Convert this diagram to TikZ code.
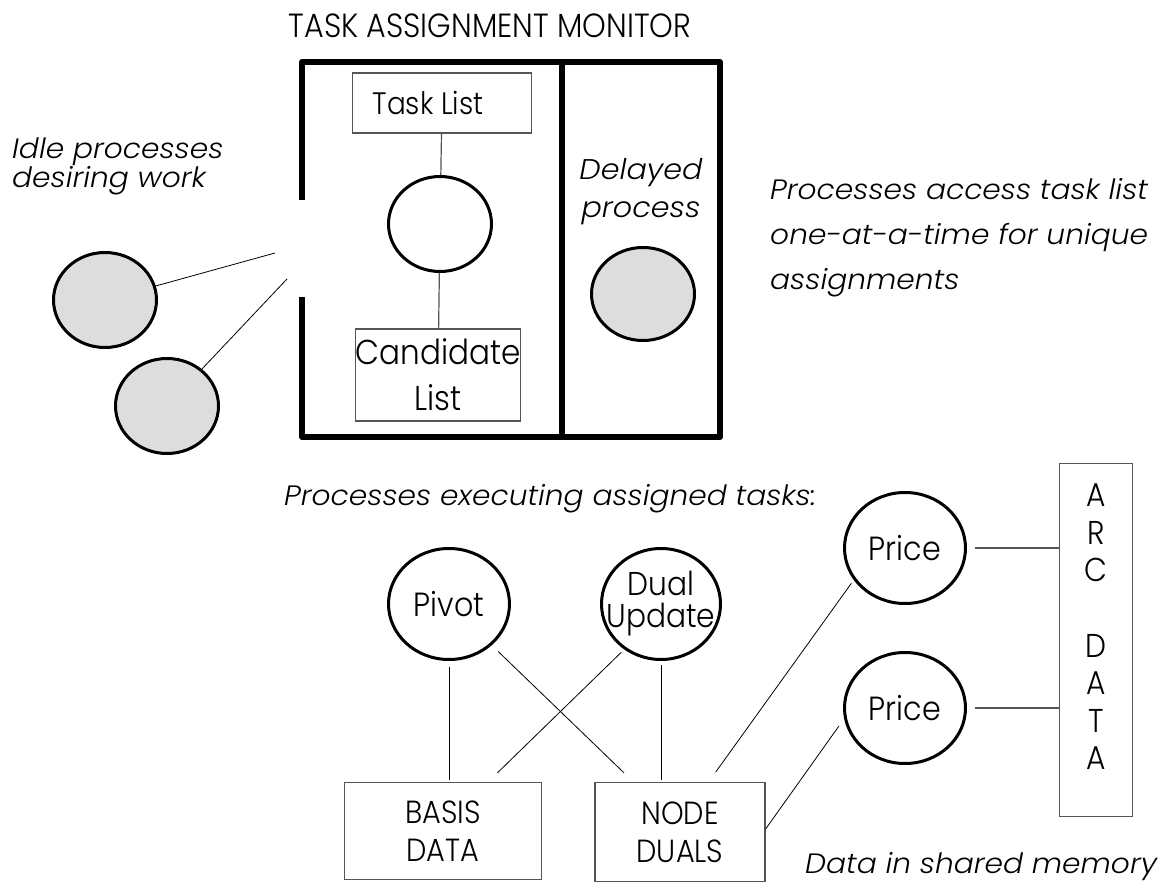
\documentclass[tikz,border=0pt]{standalone}
\usepackage{fontspec}
\IfFontExistsTF{Poppins Light}
  {\setmainfont{Poppins Light}[FakeStretch=0.9, ItalicFeatures={FakeStretch=1.06}]}
  {\setmainfont{Poppins}[FakeStretch=0.9, ItalicFeatures={FakeStretch=1.06}]}
\usetikzlibrary{shapes.geometric}

\definecolor{procgray}{HTML}{DDDDDD}
\definecolor{boxline}{HTML}{555555}
\newcommand{\spill}[1]{\makebox[0pt]{#1}}

\begin{document}
\begin{tikzpicture}[x=1pt,y=-1pt,
  proc/.style={ellipse, draw, line width=3pt, inner sep=0pt},
  idle/.style={proc, fill=procgray, minimum width=103pt, minimum height=95pt},
  task/.style={proc, minimum width=121pt, minimum height=111pt,
    align=center, font=\fontsize{33.5}{30}\selectfont},
  store/.style={draw=boxline, line width=1.3pt, inner sep=0pt, align=center,
    font=\fontsize{32}{38}\selectfont},
  note/.style={inner sep=0pt, align=left, font=\fontsize{28}{29}\selectfont\itshape},
  wall/.style={line width=6pt, line join=round},
  link/.style={line width=0.8pt},
  stem/.style={line width=1.2pt, draw=boxline}]
  \useasboundingbox (0,0) rectangle (1176,888);

  % 1. Monitor with its entry gap
  \node[font=\fontsize{33.5}{36}\selectfont, anchor=base] (monitor) at (490,38)
    {TASK ASSIGNMENT MONITOR};
  \draw[wall] (302,200) -- (302,62) -- (720,62) -- (720,437) -- (302,437) -- (302,297);
  \draw[wall] (562,62) -- (562,437);
  \coordinate (gapA) at (275,253);
  \coordinate (gapB) at (287,279);

  \node[store, minimum width=179pt, minimum height=60pt,
    font=\fontsize{31}{36}\selectfont] (tasklist) at (442,103) {Task List\hspace*{28pt}};
  \node[proc, minimum width=103pt, minimum height=95pt] (sem) at (440,224) {};
  \node[store, minimum width=165pt, minimum height=92pt,
    font=\fontsize{34.5}{46}\selectfont] (candidate) at (438,375)
    {\spill{Candidate}\\\spill{List}};
  \draw[stem] (tasklist) -- (sem);
  \draw[stem] (sem) -- (candidate);

  \node[note, align=center, font=\fontsize{28.5}{38}\selectfont\itshape] (delaytxt)
    at (641,192) {Delayed\\process};
  \node[idle, minimum height=93pt] (delayed) at (643,294) {};

  % 2. Idle processes waiting outside
  \node[note, anchor=west] (idletxt) at (12,166) {Idle processes\\desiring work};
  \node[idle] (idle1) at (105,300) {};
  \node[idle] (idle2) at (167,406) {};
  \draw[link] (idle1) -- (gapA);
  \draw[link] (idle2) -- (gapB);

  \node[note, anchor=west, font=\fontsize{28}{45}\selectfont\itshape] (accesstxt)
    at (770,238) {Processes access task list\\one-at-a-time for unique\\assignments};

  % 3. Working processes and shared data
  \node[note, anchor=base west] (worktxt) at (284,505)
    {Processes executing assigned tasks:};
  \node[task] (pivot) at (449,604) {Pivot};
  \node[task, minimum width=119pt, font=\fontsize{33}{32}\selectfont] (dual) at (661,604)
    {\spill{Dual}\\\spill{Update}};
  \node[task] (price1) at (905,548) {Price};
  \node[task] (price2) at (905,708) {Price};

  \node[store, minimum width=197pt, minimum height=97pt] (basis) at (443,831)
    {BASIS\\DATA};
  \node[store, minimum width=170pt, minimum height=99pt] (nodeduals) at (680,832)
    {NODE\\DUALS};
  \node[store, minimum width=73pt, minimum height=353pt,
    font=\fontsize{33}{37.6}\selectfont] (arc) at (1096,640)
    {A\\R\\C\\[37.6pt]D\\A\\T\\A\rule[-26pt]{0pt}{26pt}};
  \node[note, anchor=base west] (sharedtxt) at (805,873) {Data in shared memory};

  % 4. Connectors
  \draw[link, shorten <=6pt, shorten >=2pt] (pivot) -- (pivot |- basis.north);
  \draw[link, shorten <=9pt, shorten >=13pt] (pivot.316) -- ([xshift=39pt]nodeduals.north west);
  \draw[link, shorten <=4pt, shorten >=13pt] (dual.231) -- ([xshift=-54pt]basis.north east);
  \draw[link, shorten <=4pt, shorten >=2pt] (dual) -- (dual |- nodeduals.north);
  \draw[link, shorten <=4pt, shorten >=12pt] (price1.212) -- ([xshift=-57pt]nodeduals.north east);
  \draw[link, shorten <=9pt] (price2.190) -- ([yshift=3pt]nodeduals.east);
  \draw[stem, shorten <=8pt] (price1) -- (price1 -| arc.west);
  \draw[stem, shorten <=8pt] (price2) -- (price2 -| arc.west);
\end{tikzpicture}
\end{document}
